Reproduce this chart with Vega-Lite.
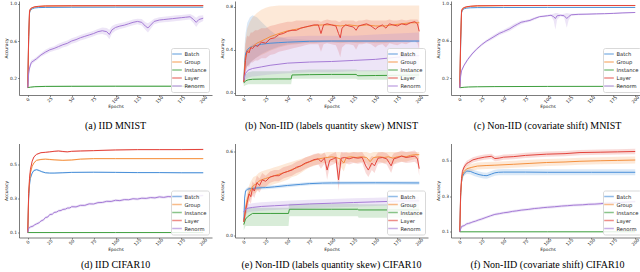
{
"$schema":"https://vega.github.io/schema/vega-lite/v6.json",
"padding":{"left":3,"top":0,"right":0,"bottom":0},
"background":"white",
"config":{
 "view":{"stroke":null},
 "axis":{"labelFont":"DejaVu Sans","labelFontSize":4.4,"labelColor":"#262626","titleFont":"DejaVu Sans","titleFontSize":4.4,"titleFontWeight":"normal","titleColor":"#262626","grid":false,"domainColor":"#444","domainWidth":0.7,"tickColor":"#444","tickSize":1.5,"tickWidth":0.6,"labelPadding":1,"labelOverlap":false,"labelFlush":false,"labelBound":false},
 "axisX":{"labelAngle":-45,"labelAlign":"center","labelBaseline":"middle","labelPadding":3,"titlePadding":1.5},
 "axisY":{"titlePadding":1.5},
 "legend":{"orient":"bottom-right","offset":3,"padding":2,"strokeColor":"#d9d9d9","fillColor":"rgba(255,255,255,0.85)","cornerRadius":2,"labelFont":"DejaVu Sans","labelFontSize":5.2,"labelColor":"#262626","symbolType":"M-1.6,0H1.6","symbolSize":36,"symbolStrokeWidth":1.5,"symbolOpacity":0.6,"rowPadding":-0.8,"labelOffset":3.5},
 "title":{"font":"Liberation Serif","fontSize":10,"fontWeight":"normal","color":"#000","orient":"bottom","anchor":"middle","offset":13}
},
"datasets":{
"a":[
{"s":"Batch","x":0,"y":0.1,"lo":0.098,"hi":0.102},{"s":"Batch","x":1,"y":0.6,"lo":0.55,"hi":0.65},{"s":"Batch","x":2,"y":0.9,"lo":0.88,"hi":0.92},{"s":"Batch","x":3,"y":0.93,"lo":0.92,"hi":0.94},{"s":"Batch","x":5,"y":0.945,"lo":0.94,"hi":0.95},{"s":"Batch","x":8,"y":0.955,"lo":0.951,"hi":0.959},{"s":"Batch","x":12,"y":0.958,"lo":0.955,"hi":0.961},{"s":"Batch","x":20,"y":0.96,"lo":0.957,"hi":0.963},{"s":"Batch","x":50,"y":0.962,"lo":0.959,"hi":0.965},{"s":"Batch","x":100,"y":0.963,"lo":0.96,"hi":0.966},{"s":"Batch","x":200,"y":0.963,"lo":0.96,"hi":0.966},
{"s":"Group","x":0,"y":0.1,"lo":0.098,"hi":0.102},{"s":"Group","x":1,"y":0.62,"lo":0.57,"hi":0.67},{"s":"Group","x":2,"y":0.91,"lo":0.89,"hi":0.93},{"s":"Group","x":3,"y":0.94,"lo":0.93,"hi":0.95},{"s":"Group","x":5,"y":0.955,"lo":0.95,"hi":0.96},{"s":"Group","x":8,"y":0.965,"lo":0.962,"hi":0.968},{"s":"Group","x":12,"y":0.97,"lo":0.967,"hi":0.973},{"s":"Group","x":20,"y":0.975,"lo":0.972,"hi":0.978},{"s":"Group","x":50,"y":0.977,"lo":0.974,"hi":0.98},{"s":"Group","x":100,"y":0.978,"lo":0.975,"hi":0.981},{"s":"Group","x":200,"y":0.978,"lo":0.975,"hi":0.981},
{"s":"Instance","x":0,"y":0.1,"lo":0.098,"hi":0.102},{"s":"Instance","x":3,"y":0.105,"lo":0.1,"hi":0.11},{"s":"Instance","x":8,"y":0.11,"lo":0.104,"hi":0.118},{"s":"Instance","x":20,"y":0.113,"lo":0.106,"hi":0.121},{"s":"Instance","x":50,"y":0.114,"lo":0.107,"hi":0.122},{"s":"Instance","x":100,"y":0.115,"lo":0.108,"hi":0.123},{"s":"Instance","x":200,"y":0.115,"lo":0.108,"hi":0.123},
{"s":"Layer","x":0,"y":0.1,"lo":0.098,"hi":0.102},{"s":"Layer","x":1,"y":0.65,"lo":0.6,"hi":0.7},{"s":"Layer","x":2,"y":0.92,"lo":0.9,"hi":0.94},{"s":"Layer","x":3,"y":0.945,"lo":0.935,"hi":0.955},{"s":"Layer","x":5,"y":0.958,"lo":0.953,"hi":0.963},{"s":"Layer","x":8,"y":0.967,"lo":0.964,"hi":0.97},{"s":"Layer","x":12,"y":0.972,"lo":0.969,"hi":0.975},{"s":"Layer","x":20,"y":0.976,"lo":0.973,"hi":0.979},{"s":"Layer","x":50,"y":0.978,"lo":0.975,"hi":0.981},{"s":"Layer","x":100,"y":0.979,"lo":0.976,"hi":0.982},{"s":"Layer","x":200,"y":0.98,"lo":0.977,"hi":0.983},
{"s":"Renorm","x":0,"y":0.1,"lo":0.095,"hi":0.105},{"s":"Renorm","x":1,"y":0.25,"lo":0.22,"hi":0.28},{"s":"Renorm","x":2,"y":0.31,"lo":0.28,"hi":0.34},{"s":"Renorm","x":4,"y":0.37,"lo":0.345,"hi":0.395},{"s":"Renorm","x":7,"y":0.39,"lo":0.37,"hi":0.41},{"s":"Renorm","x":10,"y":0.41,"lo":0.39,"hi":0.43},{"s":"Renorm","x":15,"y":0.45,"lo":0.43,"hi":0.47},{"s":"Renorm","x":20,"y":0.48,"lo":0.455,"hi":0.505},{"s":"Renorm","x":25,"y":0.505,"lo":0.48,"hi":0.53},{"s":"Renorm","x":30,"y":0.52,"lo":0.495,"hi":0.545},{"s":"Renorm","x":35,"y":0.54,"lo":0.51,"hi":0.57},{"s":"Renorm","x":40,"y":0.56,"lo":0.53,"hi":0.59},{"s":"Renorm","x":45,"y":0.575,"lo":0.545,"hi":0.605},{"s":"Renorm","x":50,"y":0.6,"lo":0.57,"hi":0.63},{"s":"Renorm","x":55,"y":0.615,"lo":0.585,"hi":0.645},{"s":"Renorm","x":60,"y":0.635,"lo":0.605,"hi":0.665},{"s":"Renorm","x":65,"y":0.65,"lo":0.62,"hi":0.68},{"s":"Renorm","x":70,"y":0.665,"lo":0.635,"hi":0.695},{"s":"Renorm","x":75,"y":0.68,"lo":0.65,"hi":0.71},{"s":"Renorm","x":80,"y":0.7,"lo":0.67,"hi":0.73},{"s":"Renorm","x":85,"y":0.71,"lo":0.675,"hi":0.745},{"s":"Renorm","x":90,"y":0.7,"lo":0.66,"hi":0.74},{"s":"Renorm","x":93,"y":0.67,"lo":0.62,"hi":0.72},{"s":"Renorm","x":96,"y":0.72,"lo":0.68,"hi":0.76},{"s":"Renorm","x":100,"y":0.745,"lo":0.71,"hi":0.78},{"s":"Renorm","x":105,"y":0.76,"lo":0.73,"hi":0.79},{"s":"Renorm","x":110,"y":0.77,"lo":0.74,"hi":0.8},{"s":"Renorm","x":115,"y":0.785,"lo":0.755,"hi":0.815},{"s":"Renorm","x":120,"y":0.8,"lo":0.77,"hi":0.83},{"s":"Renorm","x":125,"y":0.81,"lo":0.78,"hi":0.84},{"s":"Renorm","x":130,"y":0.8,"lo":0.765,"hi":0.835},{"s":"Renorm","x":134,"y":0.76,"lo":0.72,"hi":0.8},{"s":"Renorm","x":137,"y":0.74,"lo":0.69,"hi":0.79},{"s":"Renorm","x":140,"y":0.77,"lo":0.73,"hi":0.81},{"s":"Renorm","x":144,"y":0.81,"lo":0.78,"hi":0.84},{"s":"Renorm","x":150,"y":0.825,"lo":0.795,"hi":0.855},{"s":"Renorm","x":155,"y":0.83,"lo":0.8,"hi":0.86},{"s":"Renorm","x":160,"y":0.835,"lo":0.805,"hi":0.865},{"s":"Renorm","x":165,"y":0.84,"lo":0.81,"hi":0.87},{"s":"Renorm","x":170,"y":0.845,"lo":0.815,"hi":0.875},{"s":"Renorm","x":175,"y":0.85,"lo":0.82,"hi":0.88},{"s":"Renorm","x":180,"y":0.855,"lo":0.825,"hi":0.885},{"s":"Renorm","x":185,"y":0.86,"lo":0.83,"hi":0.89},{"s":"Renorm","x":189,"y":0.83,"lo":0.79,"hi":0.87},{"s":"Renorm","x":192,"y":0.8,"lo":0.75,"hi":0.85},{"s":"Renorm","x":195,"y":0.83,"lo":0.79,"hi":0.87},{"s":"Renorm","x":200,"y":0.845,"lo":0.815,"hi":0.875}
],
"b":[
{"s":"Batch","x":0,"y":0.1,"lo":0.08,"hi":0.12},{"s":"Batch","x":1,"y":0.28,"lo":0.15,"hi":0.45},{"s":"Batch","x":2,"y":0.36,"lo":0.22,"hi":0.55},{"s":"Batch","x":4,"y":0.4,"lo":0.25,"hi":0.65},{"s":"Batch","x":7,"y":0.42,"lo":0.27,"hi":0.7},{"s":"Batch","x":10,"y":0.43,"lo":0.3,"hi":0.72},{"s":"Batch","x":15,"y":0.44,"lo":0.33,"hi":0.7},{"s":"Batch","x":20,"y":0.45,"lo":0.36,"hi":0.66},{"s":"Batch","x":30,"y":0.46,"lo":0.4,"hi":0.58},{"s":"Batch","x":40,"y":0.465,"lo":0.43,"hi":0.52},{"s":"Batch","x":50,"y":0.47,"lo":0.45,"hi":0.5},{"s":"Batch","x":75,"y":0.478,"lo":0.465,"hi":0.49},{"s":"Batch","x":100,"y":0.48,"lo":0.47,"hi":0.49},{"s":"Batch","x":150,"y":0.48,"lo":0.47,"hi":0.49},{"s":"Batch","x":200,"y":0.48,"lo":0.47,"hi":0.49},
{"s":"Group","x":0,"y":0.1,"lo":0.08,"hi":0.12},{"s":"Group","x":1,"y":0.25,"lo":0.15,"hi":0.4},{"s":"Group","x":2,"y":0.33,"lo":0.2,"hi":0.5},{"s":"Group","x":4,"y":0.38,"lo":0.24,"hi":0.6},{"s":"Group","x":7,"y":0.41,"lo":0.28,"hi":0.66},{"s":"Group","x":10,"y":0.43,"lo":0.3,"hi":0.7},{"s":"Group","x":15,"y":0.46,"lo":0.33,"hi":0.74},{"s":"Group","x":20,"y":0.48,"lo":0.35,"hi":0.77},{"s":"Group","x":25,"y":0.5,"lo":0.37,"hi":0.79},{"s":"Group","x":30,"y":0.52,"lo":0.39,"hi":0.8},{"s":"Group","x":40,"y":0.55,"lo":0.42,"hi":0.81},{"s":"Group","x":50,"y":0.575,"lo":0.44,"hi":0.81},{"s":"Group","x":60,"y":0.59,"lo":0.45,"hi":0.81},{"s":"Group","x":70,"y":0.61,"lo":0.46,"hi":0.81},{"s":"Group","x":80,"y":0.625,"lo":0.46,"hi":0.81},{"s":"Group","x":90,"y":0.63,"lo":0.47,"hi":0.81},{"s":"Group","x":100,"y":0.63,"lo":0.47,"hi":0.81},{"s":"Group","x":110,"y":0.62,"lo":0.46,"hi":0.81},{"s":"Group","x":120,"y":0.63,"lo":0.47,"hi":0.81},{"s":"Group","x":130,"y":0.62,"lo":0.46,"hi":0.81},{"s":"Group","x":140,"y":0.63,"lo":0.47,"hi":0.81},{"s":"Group","x":150,"y":0.62,"lo":0.46,"hi":0.81},{"s":"Group","x":160,"y":0.62,"lo":0.46,"hi":0.81},{"s":"Group","x":170,"y":0.63,"lo":0.47,"hi":0.81},{"s":"Group","x":180,"y":0.64,"lo":0.48,"hi":0.81},{"s":"Group","x":190,"y":0.65,"lo":0.49,"hi":0.81},{"s":"Group","x":200,"y":0.65,"lo":0.49,"hi":0.81},
{"s":"Instance","x":0,"y":0.09,"lo":0.06,"hi":0.12},{"s":"Instance","x":2,"y":0.11,"lo":0.07,"hi":0.17},{"s":"Instance","x":5,"y":0.12,"lo":0.08,"hi":0.19},{"s":"Instance","x":10,"y":0.125,"lo":0.08,"hi":0.2},{"s":"Instance","x":20,"y":0.127,"lo":0.08,"hi":0.2},{"s":"Instance","x":40,"y":0.128,"lo":0.08,"hi":0.2},{"s":"Instance","x":54,"y":0.128,"lo":0.08,"hi":0.2},{"s":"Instance","x":55,"y":0.165,"lo":0.13,"hi":0.21},{"s":"Instance","x":75,"y":0.168,"lo":0.13,"hi":0.215},{"s":"Instance","x":100,"y":0.17,"lo":0.13,"hi":0.215},{"s":"Instance","x":128,"y":0.17,"lo":0.13,"hi":0.215},{"s":"Instance","x":130,"y":0.158,"lo":0.12,"hi":0.21},{"s":"Instance","x":150,"y":0.16,"lo":0.12,"hi":0.21},{"s":"Instance","x":175,"y":0.162,"lo":0.12,"hi":0.21},{"s":"Instance","x":200,"y":0.165,"lo":0.12,"hi":0.21},
{"s":"Layer","x":0,"y":0.1,"lo":0.08,"hi":0.12},{"s":"Layer","x":1,"y":0.2,"lo":0.12,"hi":0.3},{"s":"Layer","x":2,"y":0.3,"lo":0.18,"hi":0.45},{"s":"Layer","x":3,"y":0.36,"lo":0.22,"hi":0.5},{"s":"Layer","x":4,"y":0.39,"lo":0.25,"hi":0.53},{"s":"Layer","x":6,"y":0.37,"lo":0.24,"hi":0.52},{"s":"Layer","x":8,"y":0.42,"lo":0.28,"hi":0.56},{"s":"Layer","x":10,"y":0.41,"lo":0.28,"hi":0.56},{"s":"Layer","x":13,"y":0.44,"lo":0.3,"hi":0.58},{"s":"Layer","x":16,"y":0.43,"lo":0.3,"hi":0.58},{"s":"Layer","x":20,"y":0.47,"lo":0.32,"hi":0.6},{"s":"Layer","x":25,"y":0.46,"lo":0.32,"hi":0.6},{"s":"Layer","x":30,"y":0.5,"lo":0.35,"hi":0.62},{"s":"Layer","x":35,"y":0.51,"lo":0.36,"hi":0.63},{"s":"Layer","x":40,"y":0.54,"lo":0.38,"hi":0.64},{"s":"Layer","x":45,"y":0.55,"lo":0.39,"hi":0.65},{"s":"Layer","x":50,"y":0.57,"lo":0.4,"hi":0.66},{"s":"Layer","x":55,"y":0.58,"lo":0.41,"hi":0.66},{"s":"Layer","x":60,"y":0.58,"lo":0.42,"hi":0.67},{"s":"Layer","x":65,"y":0.6,"lo":0.43,"hi":0.67},{"s":"Layer","x":70,"y":0.61,"lo":0.44,"hi":0.67},{"s":"Layer","x":75,"y":0.62,"lo":0.45,"hi":0.67},{"s":"Layer","x":80,"y":0.63,"lo":0.45,"hi":0.67},{"s":"Layer","x":85,"y":0.63,"lo":0.45,"hi":0.67},{"s":"Layer","x":88,"y":0.55,"lo":0.38,"hi":0.66},{"s":"Layer","x":91,"y":0.63,"lo":0.45,"hi":0.67},{"s":"Layer","x":95,"y":0.64,"lo":0.46,"hi":0.68},{"s":"Layer","x":100,"y":0.63,"lo":0.45,"hi":0.67},{"s":"Layer","x":105,"y":0.62,"lo":0.44,"hi":0.67},{"s":"Layer","x":108,"y":0.55,"lo":0.38,"hi":0.66},{"s":"Layer","x":110,"y":0.51,"lo":0.33,"hi":0.66},{"s":"Layer","x":112,"y":0.6,"lo":0.42,"hi":0.67},{"s":"Layer","x":116,"y":0.63,"lo":0.45,"hi":0.67},{"s":"Layer","x":120,"y":0.62,"lo":0.45,"hi":0.67},{"s":"Layer","x":125,"y":0.61,"lo":0.44,"hi":0.67},{"s":"Layer","x":128,"y":0.58,"lo":0.4,"hi":0.66},{"s":"Layer","x":131,"y":0.62,"lo":0.45,"hi":0.67},{"s":"Layer","x":135,"y":0.63,"lo":0.45,"hi":0.67},{"s":"Layer","x":140,"y":0.64,"lo":0.46,"hi":0.68},{"s":"Layer","x":145,"y":0.62,"lo":0.45,"hi":0.67},{"s":"Layer","x":150,"y":0.59,"lo":0.42,"hi":0.67},{"s":"Layer","x":153,"y":0.61,"lo":0.44,"hi":0.67},{"s":"Layer","x":158,"y":0.63,"lo":0.45,"hi":0.67},{"s":"Layer","x":162,"y":0.6,"lo":0.42,"hi":0.67},{"s":"Layer","x":166,"y":0.64,"lo":0.46,"hi":0.68},{"s":"Layer","x":170,"y":0.63,"lo":0.45,"hi":0.67},{"s":"Layer","x":175,"y":0.62,"lo":0.44,"hi":0.67},{"s":"Layer","x":180,"y":0.64,"lo":0.46,"hi":0.68},{"s":"Layer","x":185,"y":0.63,"lo":0.45,"hi":0.67},{"s":"Layer","x":190,"y":0.65,"lo":0.47,"hi":0.68},{"s":"Layer","x":195,"y":0.66,"lo":0.48,"hi":0.68},{"s":"Layer","x":198,"y":0.64,"lo":0.46,"hi":0.68},{"s":"Layer","x":200,"y":0.57,"lo":0.4,"hi":0.66},
{"s":"Renorm","x":0,"y":0.12,"lo":0.08,"hi":0.16},{"s":"Renorm","x":2,"y":0.18,"lo":0.12,"hi":0.3},{"s":"Renorm","x":5,"y":0.21,"lo":0.14,"hi":0.4},{"s":"Renorm","x":10,"y":0.225,"lo":0.15,"hi":0.45},{"s":"Renorm","x":20,"y":0.24,"lo":0.16,"hi":0.48},{"s":"Renorm","x":30,"y":0.255,"lo":0.17,"hi":0.5},{"s":"Renorm","x":50,"y":0.275,"lo":0.18,"hi":0.52},{"s":"Renorm","x":75,"y":0.285,"lo":0.19,"hi":0.53},{"s":"Renorm","x":100,"y":0.29,"lo":0.19,"hi":0.53},{"s":"Renorm","x":125,"y":0.3,"lo":0.2,"hi":0.53},{"s":"Renorm","x":150,"y":0.31,"lo":0.2,"hi":0.54},{"s":"Renorm","x":175,"y":0.33,"lo":0.21,"hi":0.55},{"s":"Renorm","x":200,"y":0.345,"lo":0.22,"hi":0.56}
],
"c":[
{"s":"Batch","x":0,"y":0.1,"lo":0.098,"hi":0.102},{"s":"Batch","x":1,"y":0.55,"lo":0.5,"hi":0.6},{"s":"Batch","x":2,"y":0.9,"lo":0.88,"hi":0.92},{"s":"Batch","x":3,"y":0.93,"lo":0.92,"hi":0.94},{"s":"Batch","x":5,"y":0.945,"lo":0.94,"hi":0.95},{"s":"Batch","x":8,"y":0.952,"lo":0.949,"hi":0.955},{"s":"Batch","x":12,"y":0.955,"lo":0.952,"hi":0.958},{"s":"Batch","x":20,"y":0.957,"lo":0.954,"hi":0.96},{"s":"Batch","x":50,"y":0.958,"lo":0.955,"hi":0.961},{"s":"Batch","x":100,"y":0.959,"lo":0.956,"hi":0.962},{"s":"Batch","x":200,"y":0.959,"lo":0.956,"hi":0.962},
{"s":"Group","x":0,"y":0.1,"lo":0.098,"hi":0.102},{"s":"Group","x":1,"y":0.6,"lo":0.55,"hi":0.65},{"s":"Group","x":2,"y":0.91,"lo":0.89,"hi":0.93},{"s":"Group","x":3,"y":0.94,"lo":0.93,"hi":0.95},{"s":"Group","x":5,"y":0.955,"lo":0.95,"hi":0.96},{"s":"Group","x":8,"y":0.965,"lo":0.962,"hi":0.968},{"s":"Group","x":12,"y":0.97,"lo":0.967,"hi":0.973},{"s":"Group","x":20,"y":0.975,"lo":0.972,"hi":0.978},{"s":"Group","x":50,"y":0.978,"lo":0.975,"hi":0.981},{"s":"Group","x":100,"y":0.979,"lo":0.976,"hi":0.982},{"s":"Group","x":200,"y":0.979,"lo":0.976,"hi":0.982},
{"s":"Instance","x":0,"y":0.098,"lo":0.095,"hi":0.101},{"s":"Instance","x":5,"y":0.103,"lo":0.1,"hi":0.106},{"s":"Instance","x":10,"y":0.106,"lo":0.103,"hi":0.109},{"s":"Instance","x":20,"y":0.108,"lo":0.105,"hi":0.111},{"s":"Instance","x":40,"y":0.11,"lo":0.107,"hi":0.113},{"s":"Instance","x":100,"y":0.112,"lo":0.109,"hi":0.115},{"s":"Instance","x":200,"y":0.113,"lo":0.11,"hi":0.116},
{"s":"Layer","x":0,"y":0.1,"lo":0.098,"hi":0.102},{"s":"Layer","x":1,"y":0.62,"lo":0.57,"hi":0.67},{"s":"Layer","x":2,"y":0.92,"lo":0.9,"hi":0.94},{"s":"Layer","x":3,"y":0.945,"lo":0.935,"hi":0.955},{"s":"Layer","x":5,"y":0.958,"lo":0.953,"hi":0.963},{"s":"Layer","x":8,"y":0.967,"lo":0.964,"hi":0.97},{"s":"Layer","x":12,"y":0.972,"lo":0.969,"hi":0.975},{"s":"Layer","x":20,"y":0.977,"lo":0.974,"hi":0.98},{"s":"Layer","x":50,"y":0.979,"lo":0.976,"hi":0.982},{"s":"Layer","x":100,"y":0.98,"lo":0.977,"hi":0.983},{"s":"Layer","x":200,"y":0.98,"lo":0.977,"hi":0.983},
{"s":"Renorm","x":0,"y":0.095,"lo":0.09,"hi":0.1},{"s":"Renorm","x":1,"y":0.22,"lo":0.2,"hi":0.24},{"s":"Renorm","x":2,"y":0.28,"lo":0.26,"hi":0.3},{"s":"Renorm","x":5,"y":0.34,"lo":0.325,"hi":0.355},{"s":"Renorm","x":9,"y":0.4,"lo":0.385,"hi":0.415},{"s":"Renorm","x":14,"y":0.46,"lo":0.445,"hi":0.475},{"s":"Renorm","x":19,"y":0.51,"lo":0.495,"hi":0.525},{"s":"Renorm","x":25,"y":0.56,"lo":0.545,"hi":0.575},{"s":"Renorm","x":30,"y":0.595,"lo":0.58,"hi":0.61},{"s":"Renorm","x":38,"y":0.64,"lo":0.62,"hi":0.66},{"s":"Renorm","x":45,"y":0.68,"lo":0.66,"hi":0.7},{"s":"Renorm","x":50,"y":0.7,"lo":0.68,"hi":0.72},{"s":"Renorm","x":57,"y":0.73,"lo":0.705,"hi":0.755},{"s":"Renorm","x":62,"y":0.76,"lo":0.735,"hi":0.785},{"s":"Renorm","x":66,"y":0.78,"lo":0.76,"hi":0.8},{"s":"Renorm","x":70,"y":0.8,"lo":0.78,"hi":0.82},{"s":"Renorm","x":75,"y":0.81,"lo":0.795,"hi":0.825},{"s":"Renorm","x":80,"y":0.82,"lo":0.805,"hi":0.835},{"s":"Renorm","x":85,"y":0.84,"lo":0.825,"hi":0.855},{"s":"Renorm","x":91,"y":0.86,"lo":0.85,"hi":0.87},{"s":"Renorm","x":96,"y":0.865,"lo":0.855,"hi":0.875},{"s":"Renorm","x":100,"y":0.87,"lo":0.86,"hi":0.88},{"s":"Renorm","x":104,"y":0.875,"lo":0.865,"hi":0.885},{"s":"Renorm","x":107,"y":0.86,"lo":0.82,"hi":0.89},{"s":"Renorm","x":109,"y":0.84,"lo":0.72,"hi":0.9},{"s":"Renorm","x":111,"y":0.87,"lo":0.83,"hi":0.9},{"s":"Renorm","x":115,"y":0.875,"lo":0.865,"hi":0.885},{"s":"Renorm","x":119,"y":0.87,"lo":0.85,"hi":0.89},{"s":"Renorm","x":122,"y":0.84,"lo":0.74,"hi":0.9},{"s":"Renorm","x":124,"y":0.86,"lo":0.82,"hi":0.895},{"s":"Renorm","x":127,"y":0.88,"lo":0.87,"hi":0.89},{"s":"Renorm","x":135,"y":0.885,"lo":0.875,"hi":0.895},{"s":"Renorm","x":145,"y":0.887,"lo":0.879,"hi":0.895},{"s":"Renorm","x":156,"y":0.89,"lo":0.882,"hi":0.898},{"s":"Renorm","x":165,"y":0.892,"lo":0.886,"hi":0.898},{"s":"Renorm","x":175,"y":0.895,"lo":0.889,"hi":0.901},{"s":"Renorm","x":185,"y":0.9,"lo":0.895,"hi":0.905},{"s":"Renorm","x":200,"y":0.905,"lo":0.9,"hi":0.91}
],
"d":[
{"s":"Batch","x":0,"y":0.1,"lo":0.098,"hi":0.102},{"s":"Batch","x":1,"y":0.3,"lo":0.28,"hi":0.32},{"s":"Batch","x":2,"y":0.38,"lo":0.37,"hi":0.39},{"s":"Batch","x":3,"y":0.42,"lo":0.41,"hi":0.43},{"s":"Batch","x":5,"y":0.45,"lo":0.443,"hi":0.457},{"s":"Batch","x":7,"y":0.465,"lo":0.459,"hi":0.471},{"s":"Batch","x":10,"y":0.47,"lo":0.465,"hi":0.475},{"s":"Batch","x":13,"y":0.465,"lo":0.46,"hi":0.47},{"s":"Batch","x":16,"y":0.458,"lo":0.453,"hi":0.463},{"s":"Batch","x":20,"y":0.452,"lo":0.447,"hi":0.457},{"s":"Batch","x":25,"y":0.45,"lo":0.446,"hi":0.454},{"s":"Batch","x":30,"y":0.45,"lo":0.446,"hi":0.454},{"s":"Batch","x":40,"y":0.452,"lo":0.448,"hi":0.456},{"s":"Batch","x":50,"y":0.454,"lo":0.45,"hi":0.458},{"s":"Batch","x":75,"y":0.455,"lo":0.451,"hi":0.459},{"s":"Batch","x":100,"y":0.454,"lo":0.45,"hi":0.458},{"s":"Batch","x":125,"y":0.453,"lo":0.449,"hi":0.457},{"s":"Batch","x":150,"y":0.453,"lo":0.449,"hi":0.457},{"s":"Batch","x":175,"y":0.452,"lo":0.448,"hi":0.456},{"s":"Batch","x":200,"y":0.452,"lo":0.448,"hi":0.456},
{"s":"Group","x":0,"y":0.1,"lo":0.098,"hi":0.102},{"s":"Group","x":1,"y":0.32,"lo":0.3,"hi":0.34},{"s":"Group","x":2,"y":0.4,"lo":0.39,"hi":0.41},{"s":"Group","x":3,"y":0.45,"lo":0.44,"hi":0.46},{"s":"Group","x":5,"y":0.49,"lo":0.484,"hi":0.496},{"s":"Group","x":7,"y":0.51,"lo":0.505,"hi":0.515},{"s":"Group","x":10,"y":0.525,"lo":0.521,"hi":0.529},{"s":"Group","x":15,"y":0.53,"lo":0.526,"hi":0.534},{"s":"Group","x":20,"y":0.532,"lo":0.528,"hi":0.536},{"s":"Group","x":25,"y":0.53,"lo":0.526,"hi":0.534},{"s":"Group","x":30,"y":0.528,"lo":0.524,"hi":0.532},{"s":"Group","x":40,"y":0.525,"lo":0.521,"hi":0.529},{"s":"Group","x":50,"y":0.527,"lo":0.523,"hi":0.531},{"s":"Group","x":60,"y":0.532,"lo":0.528,"hi":0.536},{"s":"Group","x":75,"y":0.535,"lo":0.531,"hi":0.539},{"s":"Group","x":100,"y":0.535,"lo":0.531,"hi":0.539},{"s":"Group","x":200,"y":0.535,"lo":0.531,"hi":0.539},
{"s":"Instance","x":0,"y":0.1,"lo":0.099,"hi":0.101},{"s":"Instance","x":100,"y":0.1,"lo":0.099,"hi":0.101},{"s":"Instance","x":200,"y":0.1,"lo":0.099,"hi":0.101},
{"s":"Layer","x":0,"y":0.1,"lo":0.098,"hi":0.102},{"s":"Layer","x":1,"y":0.33,"lo":0.31,"hi":0.35},{"s":"Layer","x":2,"y":0.42,"lo":0.41,"hi":0.43},{"s":"Layer","x":3,"y":0.47,"lo":0.46,"hi":0.48},{"s":"Layer","x":5,"y":0.52,"lo":0.514,"hi":0.526},{"s":"Layer","x":7,"y":0.545,"lo":0.54,"hi":0.55},{"s":"Layer","x":10,"y":0.56,"lo":0.556,"hi":0.564},{"s":"Layer","x":15,"y":0.57,"lo":0.566,"hi":0.574},{"s":"Layer","x":20,"y":0.572,"lo":0.568,"hi":0.576},{"s":"Layer","x":25,"y":0.575,"lo":0.571,"hi":0.579},{"s":"Layer","x":30,"y":0.578,"lo":0.574,"hi":0.582},{"s":"Layer","x":35,"y":0.58,"lo":0.576,"hi":0.584},{"s":"Layer","x":40,"y":0.577,"lo":0.573,"hi":0.581},{"s":"Layer","x":45,"y":0.575,"lo":0.571,"hi":0.579},{"s":"Layer","x":50,"y":0.578,"lo":0.574,"hi":0.582},{"s":"Layer","x":60,"y":0.58,"lo":0.576,"hi":0.584},{"s":"Layer","x":75,"y":0.582,"lo":0.578,"hi":0.586},{"s":"Layer","x":100,"y":0.586,"lo":0.582,"hi":0.59},{"s":"Layer","x":125,"y":0.588,"lo":0.584,"hi":0.592},{"s":"Layer","x":150,"y":0.588,"lo":0.584,"hi":0.592},{"s":"Layer","x":175,"y":0.588,"lo":0.584,"hi":0.592},{"s":"Layer","x":200,"y":0.589,"lo":0.585,"hi":0.593},
{"s":"Renorm","x":0,"y":0.1,"lo":0.095,"hi":0.105},{"s":"Renorm","x":1,"y":0.125,"lo":0.117,"hi":0.133},{"s":"Renorm","x":3,"y":0.133,"lo":0.125,"hi":0.141},{"s":"Renorm","x":6,"y":0.138,"lo":0.13,"hi":0.146},{"s":"Renorm","x":8,"y":0.146,"lo":0.138,"hi":0.154},{"s":"Renorm","x":10,"y":0.151,"lo":0.143,"hi":0.159},{"s":"Renorm","x":13,"y":0.158,"lo":0.15,"hi":0.166},{"s":"Renorm","x":15,"y":0.168,"lo":0.16,"hi":0.176},{"s":"Renorm","x":18,"y":0.175,"lo":0.167,"hi":0.183},{"s":"Renorm","x":20,"y":0.188,"lo":0.18,"hi":0.196},{"s":"Renorm","x":23,"y":0.192,"lo":0.184,"hi":0.2},{"s":"Renorm","x":25,"y":0.206,"lo":0.198,"hi":0.214},{"s":"Renorm","x":28,"y":0.208,"lo":0.2,"hi":0.216},{"s":"Renorm","x":30,"y":0.218,"lo":0.21,"hi":0.226},{"s":"Renorm","x":33,"y":0.221,"lo":0.213,"hi":0.229},{"s":"Renorm","x":35,"y":0.228,"lo":0.22,"hi":0.236},{"s":"Renorm","x":38,"y":0.23,"lo":0.222,"hi":0.238},{"s":"Renorm","x":40,"y":0.236,"lo":0.228,"hi":0.244},{"s":"Renorm","x":43,"y":0.238,"lo":0.23,"hi":0.246},{"s":"Renorm","x":45,"y":0.244,"lo":0.236,"hi":0.252},{"s":"Renorm","x":48,"y":0.245,"lo":0.237,"hi":0.253},{"s":"Renorm","x":50,"y":0.252,"lo":0.244,"hi":0.26},{"s":"Renorm","x":55,"y":0.251,"lo":0.243,"hi":0.259},{"s":"Renorm","x":60,"y":0.26,"lo":0.252,"hi":0.268},{"s":"Renorm","x":65,"y":0.26,"lo":0.252,"hi":0.268},{"s":"Renorm","x":70,"y":0.269,"lo":0.261,"hi":0.277},{"s":"Renorm","x":75,"y":0.268,"lo":0.26,"hi":0.276},{"s":"Renorm","x":80,"y":0.276,"lo":0.268,"hi":0.284},{"s":"Renorm","x":85,"y":0.277,"lo":0.269,"hi":0.285},{"s":"Renorm","x":90,"y":0.284,"lo":0.276,"hi":0.292},{"s":"Renorm","x":95,"y":0.283,"lo":0.275,"hi":0.291},{"s":"Renorm","x":100,"y":0.29,"lo":0.282,"hi":0.298},{"s":"Renorm","x":105,"y":0.288,"lo":0.28,"hi":0.296},{"s":"Renorm","x":110,"y":0.294,"lo":0.286,"hi":0.302},{"s":"Renorm","x":115,"y":0.293,"lo":0.285,"hi":0.301},{"s":"Renorm","x":120,"y":0.299,"lo":0.291,"hi":0.307},{"s":"Renorm","x":125,"y":0.297,"lo":0.289,"hi":0.305},{"s":"Renorm","x":130,"y":0.302,"lo":0.294,"hi":0.31},{"s":"Renorm","x":135,"y":0.301,"lo":0.293,"hi":0.309},{"s":"Renorm","x":140,"y":0.306,"lo":0.298,"hi":0.314},{"s":"Renorm","x":145,"y":0.304,"lo":0.296,"hi":0.312},{"s":"Renorm","x":150,"y":0.31,"lo":0.302,"hi":0.318},{"s":"Renorm","x":155,"y":0.307,"lo":0.299,"hi":0.315},{"s":"Renorm","x":160,"y":0.312,"lo":0.304,"hi":0.32},{"s":"Renorm","x":165,"y":0.31,"lo":0.302,"hi":0.318},{"s":"Renorm","x":170,"y":0.315,"lo":0.307,"hi":0.323},{"s":"Renorm","x":175,"y":0.313,"lo":0.305,"hi":0.321},{"s":"Renorm","x":180,"y":0.318,"lo":0.31,"hi":0.326},{"s":"Renorm","x":185,"y":0.315,"lo":0.307,"hi":0.323},{"s":"Renorm","x":190,"y":0.319,"lo":0.311,"hi":0.327},{"s":"Renorm","x":195,"y":0.316,"lo":0.308,"hi":0.324},{"s":"Renorm","x":200,"y":0.318,"lo":0.31,"hi":0.326}
],
"e":[
{"s":"Batch","x":0,"y":0.1,"lo":0.09,"hi":0.11},{"s":"Batch","x":1,"y":0.27,"lo":0.25,"hi":0.29},{"s":"Batch","x":2,"y":0.32,"lo":0.305,"hi":0.335},{"s":"Batch","x":4,"y":0.333,"lo":0.32,"hi":0.346},{"s":"Batch","x":8,"y":0.338,"lo":0.326,"hi":0.35},{"s":"Batch","x":15,"y":0.342,"lo":0.33,"hi":0.354},{"s":"Batch","x":25,"y":0.345,"lo":0.333,"hi":0.357},{"s":"Batch","x":35,"y":0.35,"lo":0.338,"hi":0.362},{"s":"Batch","x":50,"y":0.36,"lo":0.348,"hi":0.372},{"s":"Batch","x":65,"y":0.368,"lo":0.356,"hi":0.38},{"s":"Batch","x":75,"y":0.373,"lo":0.361,"hi":0.385},{"s":"Batch","x":90,"y":0.377,"lo":0.365,"hi":0.389},{"s":"Batch","x":100,"y":0.378,"lo":0.366,"hi":0.39},{"s":"Batch","x":150,"y":0.379,"lo":0.367,"hi":0.391},{"s":"Batch","x":200,"y":0.378,"lo":0.366,"hi":0.39},
{"s":"Group","x":0,"y":0.1,"lo":0.07,"hi":0.13},{"s":"Group","x":2,"y":0.19,"lo":0.13,"hi":0.25},{"s":"Group","x":4,"y":0.26,"lo":0.2,"hi":0.32},{"s":"Group","x":6,"y":0.3,"lo":0.24,"hi":0.36},{"s":"Group","x":8,"y":0.33,"lo":0.27,"hi":0.39},{"s":"Group","x":11,"y":0.36,"lo":0.3,"hi":0.42},{"s":"Group","x":14,"y":0.37,"lo":0.31,"hi":0.43},{"s":"Group","x":17,"y":0.39,"lo":0.33,"hi":0.45},{"s":"Group","x":20,"y":0.4,"lo":0.34,"hi":0.46},{"s":"Group","x":25,"y":0.41,"lo":0.35,"hi":0.47},{"s":"Group","x":30,"y":0.42,"lo":0.36,"hi":0.48},{"s":"Group","x":35,"y":0.43,"lo":0.37,"hi":0.49},{"s":"Group","x":40,"y":0.44,"lo":0.38,"hi":0.5},{"s":"Group","x":45,"y":0.45,"lo":0.39,"hi":0.51},{"s":"Group","x":50,"y":0.46,"lo":0.4,"hi":0.52},{"s":"Group","x":55,"y":0.475,"lo":0.42,"hi":0.53},{"s":"Group","x":60,"y":0.485,"lo":0.43,"hi":0.54},{"s":"Group","x":65,"y":0.5,"lo":0.45,"hi":0.55},{"s":"Group","x":70,"y":0.515,"lo":0.47,"hi":0.56},{"s":"Group","x":75,"y":0.53,"lo":0.49,"hi":0.57},{"s":"Group","x":80,"y":0.54,"lo":0.5,"hi":0.58},{"s":"Group","x":85,"y":0.55,"lo":0.51,"hi":0.59},{"s":"Group","x":90,"y":0.555,"lo":0.52,"hi":0.59},{"s":"Group","x":95,"y":0.56,"lo":0.52,"hi":0.6},{"s":"Group","x":100,"y":0.565,"lo":0.53,"hi":0.6},{"s":"Group","x":105,"y":0.56,"lo":0.52,"hi":0.6},{"s":"Group","x":110,"y":0.55,"lo":0.5,"hi":0.6},{"s":"Group","x":114,"y":0.52,"lo":0.46,"hi":0.59},{"s":"Group","x":117,"y":0.56,"lo":0.52,"hi":0.6},{"s":"Group","x":122,"y":0.565,"lo":0.53,"hi":0.6},{"s":"Group","x":128,"y":0.56,"lo":0.52,"hi":0.6},{"s":"Group","x":134,"y":0.565,"lo":0.53,"hi":0.6},{"s":"Group","x":140,"y":0.56,"lo":0.52,"hi":0.6},{"s":"Group","x":144,"y":0.53,"lo":0.48,"hi":0.59},{"s":"Group","x":148,"y":0.56,"lo":0.52,"hi":0.6},{"s":"Group","x":155,"y":0.565,"lo":0.53,"hi":0.6},{"s":"Group","x":160,"y":0.56,"lo":0.52,"hi":0.6},{"s":"Group","x":165,"y":0.565,"lo":0.53,"hi":0.6},{"s":"Group","x":170,"y":0.555,"lo":0.51,"hi":0.6},{"s":"Group","x":175,"y":0.565,"lo":0.53,"hi":0.6},{"s":"Group","x":180,"y":0.57,"lo":0.53,"hi":0.6},{"s":"Group","x":185,"y":0.565,"lo":0.53,"hi":0.6},{"s":"Group","x":190,"y":0.575,"lo":0.54,"hi":0.6},{"s":"Group","x":195,"y":0.58,"lo":0.55,"hi":0.6},{"s":"Group","x":200,"y":0.58,"lo":0.55,"hi":0.6},
{"s":"Instance","x":0,"y":0.08,"lo":0.04,"hi":0.12},{"s":"Instance","x":2,"y":0.12,"lo":0.07,"hi":0.18},{"s":"Instance","x":5,"y":0.14,"lo":0.07,"hi":0.2},{"s":"Instance","x":10,"y":0.16,"lo":0.07,"hi":0.2},{"s":"Instance","x":30,"y":0.16,"lo":0.07,"hi":0.2},{"s":"Instance","x":51,"y":0.16,"lo":0.07,"hi":0.2},{"s":"Instance","x":52,"y":0.19,"lo":0.14,"hi":0.23},{"s":"Instance","x":100,"y":0.19,"lo":0.14,"hi":0.23},{"s":"Instance","x":130,"y":0.19,"lo":0.14,"hi":0.23},{"s":"Instance","x":131,"y":0.185,"lo":0.13,"hi":0.225},{"s":"Instance","x":200,"y":0.185,"lo":0.13,"hi":0.225},
{"s":"Layer","x":0,"y":0.1,"lo":0.07,"hi":0.13},{"s":"Layer","x":2,"y":0.18,"lo":0.13,"hi":0.23},{"s":"Layer","x":4,"y":0.24,"lo":0.19,"hi":0.29},{"s":"Layer","x":6,"y":0.3,"lo":0.25,"hi":0.35},{"s":"Layer","x":8,"y":0.28,"lo":0.23,"hi":0.33},{"s":"Layer","x":10,"y":0.34,"lo":0.29,"hi":0.39},{"s":"Layer","x":12,"y":0.32,"lo":0.27,"hi":0.37},{"s":"Layer","x":15,"y":0.38,"lo":0.33,"hi":0.43},{"s":"Layer","x":18,"y":0.36,"lo":0.31,"hi":0.41},{"s":"Layer","x":21,"y":0.4,"lo":0.35,"hi":0.45},{"s":"Layer","x":25,"y":0.39,"lo":0.35,"hi":0.43},{"s":"Layer","x":30,"y":0.42,"lo":0.38,"hi":0.46},{"s":"Layer","x":35,"y":0.43,"lo":0.39,"hi":0.47},{"s":"Layer","x":40,"y":0.43,"lo":0.39,"hi":0.47},{"s":"Layer","x":45,"y":0.45,"lo":0.41,"hi":0.49},{"s":"Layer","x":50,"y":0.46,"lo":0.42,"hi":0.5},{"s":"Layer","x":55,"y":0.47,"lo":0.43,"hi":0.51},{"s":"Layer","x":60,"y":0.49,"lo":0.45,"hi":0.53},{"s":"Layer","x":65,"y":0.5,"lo":0.46,"hi":0.54},{"s":"Layer","x":70,"y":0.52,"lo":0.48,"hi":0.56},{"s":"Layer","x":75,"y":0.53,"lo":0.49,"hi":0.57},{"s":"Layer","x":80,"y":0.545,"lo":0.505,"hi":0.585},{"s":"Layer","x":85,"y":0.55,"lo":0.51,"hi":0.59},{"s":"Layer","x":88,"y":0.53,"lo":0.48,"hi":0.58},{"s":"Layer","x":92,"y":0.555,"lo":0.515,"hi":0.595},{"s":"Layer","x":95,"y":0.47,"lo":0.4,"hi":0.56},{"s":"Layer","x":98,"y":0.54,"lo":0.5,"hi":0.58},{"s":"Layer","x":102,"y":0.55,"lo":0.51,"hi":0.59},{"s":"Layer","x":105,"y":0.56,"lo":0.52,"hi":0.6},{"s":"Layer","x":108,"y":0.4,"lo":0.32,"hi":0.52},{"s":"Layer","x":111,"y":0.555,"lo":0.51,"hi":0.6},{"s":"Layer","x":115,"y":0.56,"lo":0.52,"hi":0.6},{"s":"Layer","x":120,"y":0.55,"lo":0.51,"hi":0.59},{"s":"Layer","x":125,"y":0.56,"lo":0.52,"hi":0.6},{"s":"Layer","x":130,"y":0.555,"lo":0.515,"hi":0.595},{"s":"Layer","x":135,"y":0.56,"lo":0.52,"hi":0.6},{"s":"Layer","x":139,"y":0.5,"lo":0.45,"hi":0.56},{"s":"Layer","x":142,"y":0.47,"lo":0.42,"hi":0.54},{"s":"Layer","x":146,"y":0.52,"lo":0.47,"hi":0.57},{"s":"Layer","x":149,"y":0.5,"lo":0.45,"hi":0.56},{"s":"Layer","x":153,"y":0.555,"lo":0.515,"hi":0.595},{"s":"Layer","x":158,"y":0.56,"lo":0.52,"hi":0.6},{"s":"Layer","x":163,"y":0.55,"lo":0.51,"hi":0.59},{"s":"Layer","x":168,"y":0.5,"lo":0.45,"hi":0.56},{"s":"Layer","x":171,"y":0.55,"lo":0.51,"hi":0.59},{"s":"Layer","x":176,"y":0.56,"lo":0.52,"hi":0.6},{"s":"Layer","x":180,"y":0.57,"lo":0.53,"hi":0.61},{"s":"Layer","x":185,"y":0.56,"lo":0.52,"hi":0.6},{"s":"Layer","x":190,"y":0.565,"lo":0.525,"hi":0.605},{"s":"Layer","x":195,"y":0.57,"lo":0.53,"hi":0.61},{"s":"Layer","x":198,"y":0.55,"lo":0.51,"hi":0.59},{"s":"Layer","x":200,"y":0.48,"lo":0.43,"hi":0.54},
{"s":"Renorm","x":0,"y":0.17,"lo":0.14,"hi":0.2},{"s":"Renorm","x":2,"y":0.19,"lo":0.16,"hi":0.22},{"s":"Renorm","x":5,"y":0.198,"lo":0.168,"hi":0.228},{"s":"Renorm","x":10,"y":0.203,"lo":0.173,"hi":0.233},{"s":"Renorm","x":20,"y":0.21,"lo":0.18,"hi":0.24},{"s":"Renorm","x":35,"y":0.215,"lo":0.185,"hi":0.245},{"s":"Renorm","x":50,"y":0.22,"lo":0.19,"hi":0.25},{"s":"Renorm","x":75,"y":0.228,"lo":0.198,"hi":0.258},{"s":"Renorm","x":100,"y":0.233,"lo":0.203,"hi":0.263},{"s":"Renorm","x":125,"y":0.238,"lo":0.208,"hi":0.268},{"s":"Renorm","x":150,"y":0.243,"lo":0.213,"hi":0.273},{"s":"Renorm","x":175,"y":0.248,"lo":0.218,"hi":0.278},{"s":"Renorm","x":200,"y":0.25,"lo":0.22,"hi":0.28}
],
"f":[
{"s":"Batch","x":0,"y":0.1,"lo":0.095,"hi":0.105},{"s":"Batch","x":1,"y":0.3,"lo":0.28,"hi":0.32},{"s":"Batch","x":2,"y":0.38,"lo":0.365,"hi":0.395},{"s":"Batch","x":3,"y":0.41,"lo":0.395,"hi":0.425},{"s":"Batch","x":5,"y":0.43,"lo":0.415,"hi":0.445},{"s":"Batch","x":8,"y":0.442,"lo":0.426,"hi":0.458},{"s":"Batch","x":12,"y":0.44,"lo":0.424,"hi":0.456},{"s":"Batch","x":17,"y":0.43,"lo":0.413,"hi":0.447},{"s":"Batch","x":22,"y":0.422,"lo":0.405,"hi":0.439},{"s":"Batch","x":27,"y":0.417,"lo":0.4,"hi":0.434},{"s":"Batch","x":31,"y":0.416,"lo":0.399,"hi":0.433},{"s":"Batch","x":36,"y":0.425,"lo":0.408,"hi":0.442},{"s":"Batch","x":40,"y":0.432,"lo":0.415,"hi":0.449},{"s":"Batch","x":44,"y":0.435,"lo":0.418,"hi":0.452},{"s":"Batch","x":50,"y":0.436,"lo":0.419,"hi":0.453},{"s":"Batch","x":75,"y":0.436,"lo":0.419,"hi":0.453},{"s":"Batch","x":100,"y":0.435,"lo":0.418,"hi":0.452},{"s":"Batch","x":150,"y":0.435,"lo":0.418,"hi":0.452},{"s":"Batch","x":200,"y":0.435,"lo":0.418,"hi":0.452},
{"s":"Group","x":0,"y":0.1,"lo":0.095,"hi":0.105},{"s":"Group","x":1,"y":0.3,"lo":0.28,"hi":0.32},{"s":"Group","x":2,"y":0.38,"lo":0.36,"hi":0.4},{"s":"Group","x":3,"y":0.42,"lo":0.4,"hi":0.44},{"s":"Group","x":5,"y":0.44,"lo":0.42,"hi":0.46},{"s":"Group","x":8,"y":0.455,"lo":0.435,"hi":0.475},{"s":"Group","x":13,"y":0.462,"lo":0.442,"hi":0.482},{"s":"Group","x":20,"y":0.47,"lo":0.45,"hi":0.49},{"s":"Group","x":30,"y":0.473,"lo":0.453,"hi":0.493},{"s":"Group","x":40,"y":0.475,"lo":0.455,"hi":0.495},{"s":"Group","x":61,"y":0.48,"lo":0.46,"hi":0.5},{"s":"Group","x":80,"y":0.485,"lo":0.465,"hi":0.505},{"s":"Group","x":99,"y":0.49,"lo":0.47,"hi":0.51},{"s":"Group","x":120,"y":0.493,"lo":0.473,"hi":0.513},{"s":"Group","x":137,"y":0.497,"lo":0.477,"hi":0.517},{"s":"Group","x":160,"y":0.5,"lo":0.48,"hi":0.52},{"s":"Group","x":180,"y":0.502,"lo":0.482,"hi":0.522},{"s":"Group","x":200,"y":0.504,"lo":0.484,"hi":0.524},
{"s":"Instance","x":0,"y":0.1,"lo":0.099,"hi":0.101},{"s":"Instance","x":100,"y":0.1,"lo":0.099,"hi":0.101},{"s":"Instance","x":200,"y":0.1,"lo":0.099,"hi":0.101},
{"s":"Layer","x":0,"y":0.1,"lo":0.095,"hi":0.105},{"s":"Layer","x":1,"y":0.32,"lo":0.3,"hi":0.34},{"s":"Layer","x":2,"y":0.4,"lo":0.385,"hi":0.415},{"s":"Layer","x":3,"y":0.44,"lo":0.425,"hi":0.455},{"s":"Layer","x":5,"y":0.465,"lo":0.45,"hi":0.48},{"s":"Layer","x":8,"y":0.485,"lo":0.47,"hi":0.5},{"s":"Layer","x":10,"y":0.49,"lo":0.475,"hi":0.505},{"s":"Layer","x":15,"y":0.505,"lo":0.49,"hi":0.52},{"s":"Layer","x":21,"y":0.513,"lo":0.498,"hi":0.528},{"s":"Layer","x":28,"y":0.52,"lo":0.505,"hi":0.535},{"s":"Layer","x":36,"y":0.525,"lo":0.51,"hi":0.54},{"s":"Layer","x":40,"y":0.512,"lo":0.497,"hi":0.527},{"s":"Layer","x":45,"y":0.515,"lo":0.5,"hi":0.53},{"s":"Layer","x":50,"y":0.52,"lo":0.505,"hi":0.535},{"s":"Layer","x":61,"y":0.523,"lo":0.508,"hi":0.538},{"s":"Layer","x":75,"y":0.53,"lo":0.515,"hi":0.545},{"s":"Layer","x":99,"y":0.537,"lo":0.522,"hi":0.552},{"s":"Layer","x":120,"y":0.54,"lo":0.525,"hi":0.555},{"s":"Layer","x":137,"y":0.546,"lo":0.531,"hi":0.561},{"s":"Layer","x":160,"y":0.548,"lo":0.533,"hi":0.563},{"s":"Layer","x":180,"y":0.55,"lo":0.535,"hi":0.565},{"s":"Layer","x":200,"y":0.552,"lo":0.537,"hi":0.567},
{"s":"Renorm","x":0,"y":0.1,"lo":0.095,"hi":0.105},{"s":"Renorm","x":2,"y":0.13,"lo":0.122,"hi":0.138},{"s":"Renorm","x":5,"y":0.135,"lo":0.127,"hi":0.143},{"s":"Renorm","x":8,"y":0.145,"lo":0.137,"hi":0.153},{"s":"Renorm","x":10,"y":0.147,"lo":0.139,"hi":0.155},{"s":"Renorm","x":13,"y":0.152,"lo":0.144,"hi":0.16},{"s":"Renorm","x":15,"y":0.156,"lo":0.148,"hi":0.164},{"s":"Renorm","x":18,"y":0.16,"lo":0.152,"hi":0.168},{"s":"Renorm","x":21,"y":0.166,"lo":0.158,"hi":0.174},{"s":"Renorm","x":25,"y":0.172,"lo":0.164,"hi":0.18},{"s":"Renorm","x":30,"y":0.181,"lo":0.173,"hi":0.189},{"s":"Renorm","x":35,"y":0.19,"lo":0.182,"hi":0.198},{"s":"Renorm","x":40,"y":0.198,"lo":0.19,"hi":0.206},{"s":"Renorm","x":45,"y":0.202,"lo":0.194,"hi":0.21},{"s":"Renorm","x":50,"y":0.207,"lo":0.199,"hi":0.215},{"s":"Renorm","x":55,"y":0.21,"lo":0.202,"hi":0.218},{"s":"Renorm","x":60,"y":0.215,"lo":0.207,"hi":0.223},{"s":"Renorm","x":65,"y":0.218,"lo":0.21,"hi":0.226},{"s":"Renorm","x":70,"y":0.222,"lo":0.214,"hi":0.23},{"s":"Renorm","x":78,"y":0.226,"lo":0.218,"hi":0.234},{"s":"Renorm","x":85,"y":0.231,"lo":0.223,"hi":0.239},{"s":"Renorm","x":90,"y":0.233,"lo":0.225,"hi":0.241},{"s":"Renorm","x":95,"y":0.236,"lo":0.228,"hi":0.244},{"s":"Renorm","x":100,"y":0.238,"lo":0.23,"hi":0.246},{"s":"Renorm","x":108,"y":0.241,"lo":0.233,"hi":0.249},{"s":"Renorm","x":116,"y":0.245,"lo":0.237,"hi":0.253},{"s":"Renorm","x":123,"y":0.247,"lo":0.239,"hi":0.255},{"s":"Renorm","x":130,"y":0.25,"lo":0.242,"hi":0.258},{"s":"Renorm","x":140,"y":0.252,"lo":0.244,"hi":0.26},{"s":"Renorm","x":147,"y":0.255,"lo":0.247,"hi":0.263},{"s":"Renorm","x":154,"y":0.256,"lo":0.248,"hi":0.264},{"s":"Renorm","x":160,"y":0.258,"lo":0.25,"hi":0.266},{"s":"Renorm","x":167,"y":0.262,"lo":0.254,"hi":0.27},{"s":"Renorm","x":175,"y":0.263,"lo":0.255,"hi":0.271},{"s":"Renorm","x":183,"y":0.265,"lo":0.257,"hi":0.273},{"s":"Renorm","x":190,"y":0.267,"lo":0.259,"hi":0.275},{"s":"Renorm","x":200,"y":0.27,"lo":0.262,"hi":0.278}
]
},
"columns":3,
"spacing":{"row":48.5,"column":23},
"bounds":"flush",
"resolve":{"legend":{"color":"independent"}},
"concat":[
{"width":193,"height":94,"title":{"text":"(a) IID MNIST","offset":13},"data":{"name":"a"},
 "encoding":{"x":{"field":"x","type":"quantitative","title":"Epochs","scale":{"domain":[-10,210],"nice":false,"zero":false},"axis":{"values":[0,25,50,75,100,125,150,175,200]}},"color":{"field":"s","type":"nominal","title":null,"scale":{"domain":["Batch","Group","Instance","Layer","Renorm"],"range":["#4a90d9","#f5913e","#3d9e3d","#e3443c","#a57bd6"]}}},
 "layer":[
  {"mark":{"type":"area","opacity":0.2},"encoding":{"y":{"field":"lo","type":"quantitative","title":"Accuracy","scale":{"domain":[0.021,1.029],"nice":false,"zero":false},"axis":{"values":[0.2,0.4,0.6,0.8,1.0],"format":".1f"}},"y2":{"field":"hi"}}},
  {"mark":{"type":"line","strokeWidth":1},"encoding":{"y":{"field":"y","type":"quantitative","title":"Accuracy"}}}
 ]},
{"width":193,"height":94,"title":{"text":"(b) Non-IID (labels quantity skew) MNIST","offset":13},"data":{"name":"b"},
 "encoding":{"x":{"field":"x","type":"quantitative","title":"Epochs","scale":{"domain":[-10,210],"nice":false,"zero":false},"axis":{"values":[0,25,50,75,100,125,150,175,200]}},"color":{"field":"s","type":"nominal","title":null}},
 "layer":[
  {"mark":{"type":"area","opacity":0.2},"encoding":{"y":{"field":"lo","type":"quantitative","title":"Accuracy","scale":{"domain":[-0.021,0.852],"nice":false,"zero":false},"axis":{"values":[0,0.1,0.2,0.3,0.4,0.5,0.6,0.7,0.8],"format":".1f"}},"y2":{"field":"hi"}}},
  {"mark":{"type":"line","strokeWidth":1},"encoding":{"y":{"field":"y","type":"quantitative","title":"Accuracy"}}}
 ]},
{"width":193,"height":94,"title":{"text":"(c) Non-IID (covariate shift) MNIST","offset":13},"data":{"name":"c"},
 "encoding":{"x":{"field":"x","type":"quantitative","title":"Epochs","scale":{"domain":[-10,210],"nice":false,"zero":false},"axis":{"values":[0,25,50,75,100,125,150,175,200]}},"color":{"field":"s","type":"nominal","title":null}},
 "layer":[
  {"mark":{"type":"area","opacity":0.2},"encoding":{"y":{"field":"lo","type":"quantitative","title":"Accuracy","scale":{"domain":[0.02,1.028],"nice":false,"zero":false},"axis":{"values":[0.2,0.4,0.6,0.8,1.0],"format":".1f"}},"y2":{"field":"hi"}}},
  {"mark":{"type":"line","strokeWidth":1},"encoding":{"y":{"field":"y","type":"quantitative","title":"Accuracy"}}}
 ]},
{"width":193,"height":94,"title":{"text":"(d) IID CIFAR10","offset":9},"data":{"name":"d"},
 "encoding":{"x":{"field":"x","type":"quantitative","title":"Epochs","scale":{"domain":[-10,210],"nice":false,"zero":false},"axis":{"values":[0,25,50,75,100,125,150,175,200]}},"color":{"field":"s","type":"nominal","title":null}},
 "layer":[
  {"mark":{"type":"area","opacity":0.2},"encoding":{"y":{"field":"lo","type":"quantitative","title":"Accuracy","scale":{"domain":[0.071,0.624],"nice":false,"zero":false},"axis":{"values":[0.1,0.2,0.3,0.4,0.5,0.6],"format":".1f"}},"y2":{"field":"hi"}}},
  {"mark":{"type":"line","strokeWidth":1},"encoding":{"y":{"field":"y","type":"quantitative","title":"Accuracy"}}}
 ]},
{"width":193,"height":94,"title":{"text":"(e) Non-IID (labels quantity skew) CIFAR10","offset":9},"data":{"name":"e"},
 "encoding":{"x":{"field":"x","type":"quantitative","title":"Epochs","scale":{"domain":[-10,210],"nice":false,"zero":false},"axis":{"values":[0,25,50,75,100,125,150,175,200]}},"color":{"field":"s","type":"nominal","title":null}},
 "layer":[
  {"mark":{"type":"area","opacity":0.2},"encoding":{"y":{"field":"lo","type":"quantitative","title":"Accuracy","scale":{"domain":[-0.012,0.66],"nice":false,"zero":false},"axis":{"values":[0,0.1,0.2,0.3,0.4,0.5,0.6],"format":".1f"}},"y2":{"field":"hi"}}},
  {"mark":{"type":"line","strokeWidth":1},"encoding":{"y":{"field":"y","type":"quantitative","title":"Accuracy"}}}
 ]},
{"width":193,"height":94,"title":{"text":"(f) Non-IID (covariate shift) CIFAR10","offset":9},"data":{"name":"f"},
 "encoding":{"x":{"field":"x","type":"quantitative","title":"Epochs","scale":{"domain":[-10,210],"nice":false,"zero":false},"axis":{"values":[0,25,50,75,100,125,150,175,200]}},"color":{"field":"s","type":"nominal","title":null}},
 "layer":[
  {"mark":{"type":"area","opacity":0.2},"encoding":{"y":{"field":"lo","type":"quantitative","title":"Accuracy","scale":{"domain":[0.068,0.597],"nice":false,"zero":false},"axis":{"values":[0.1,0.2,0.3,0.4,0.5],"format":".1f"}},"y2":{"field":"hi"}}},
  {"mark":{"type":"line","strokeWidth":1},"encoding":{"y":{"field":"y","type":"quantitative","title":"Accuracy"}}}
 ]}
]
}
